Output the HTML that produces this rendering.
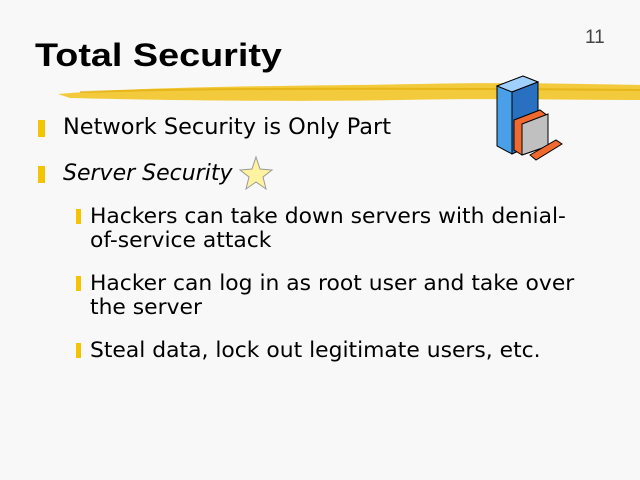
<!DOCTYPE html>
<html><head><style>
body{margin:0;width:640px;height:480px;background:#f8f8f8;position:relative;overflow:hidden;font-family:"DejaVu Sans","Liberation Sans",sans-serif}
.t{position:absolute;white-space:nowrap;transform-origin:0 0}
.b{position:absolute;background:#f5c400}
</style></head><body>
<div class="t" style="left:585px;top:27px;font-size:19px;color:#444;font-family:'Liberation Sans'">11</div>
<div class="t" style="left:35px;top:37px;font-size:32px;font-weight:bold;color:#000;font-family:'Liberation Sans';transform:scaleX(1.18)">Total Security</div>
<svg style="position:absolute;left:0;top:0" width="640" height="480">
<path d="M58 94 C150 86 300 86 420 84 C500 82 580 84 640 85 L640 100 C560 100 480 98 400 100 C300 102 150 100 70 98 Z" fill="#f1c21b" opacity="0.85"/>
<path d="M80 92 C200 88 400 88 640 90" stroke="#e0a800" stroke-width="2" fill="none" opacity="0.6"/>
<polygon points="497,86 523,76 538,82 538,142 512,154 497,146" fill="#4aa0e8" stroke="#000" stroke-width="1"/>
<polygon points="497,86 523,76 538,82 512,92" fill="#9fd0ff" stroke="#000"/>
<polygon points="512,92 538,82 538,142 512,154" fill="#2a70c0" stroke="#000"/>
<polygon points="514,120 540,110 548,116 548,146 522,155 514,150" fill="#f06a30" stroke="#000"/>
<polygon points="522,124 548,114 548,146 522,155" fill="#c0c0c0" stroke="#000"/>
<polygon points="530,155 556,140 562,144 536,160" fill="#f06a30" stroke="#000"/>
<polygon points="256,157 260,169 272,170 263,177 266,189 256,182 246,189 249,177 240,170 252,169" fill="#fff3a0" stroke="#999"/>
</svg>
<div class="b" style="left:38px;top:120px;width:7px;height:17px"></div>
<div class="t" style="left:63px;top:115px;font-size:22px;transform:scaleX(1.02)">Network Security is Only Part</div>
<div class="b" style="left:38px;top:166px;width:7px;height:17px"></div>
<div class="t" style="left:63px;top:161px;font-size:22px;font-style:italic">Server Security</div>
<div class="b" style="left:76px;top:209px;width:5px;height:15px"></div>
<div class="t" style="left:90px;top:204px;font-size:21px;line-height:24px;transform:scaleX(1.04)">Hackers can take down servers with denial-<br>of-service attack</div>
<div class="b" style="left:76px;top:276px;width:5px;height:15px"></div>
<div class="t" style="left:90px;top:271px;font-size:21px;line-height:24px;transform:scaleX(1.04)">Hacker can log in as root user and take over<br>the server</div>
<div class="b" style="left:76px;top:343px;width:5px;height:15px"></div>
<div class="t" style="left:90px;top:338px;font-size:21px;line-height:24px;transform:scaleX(1.04)">Steal data, lock out legitimate users, etc.</div>
</body></html>
